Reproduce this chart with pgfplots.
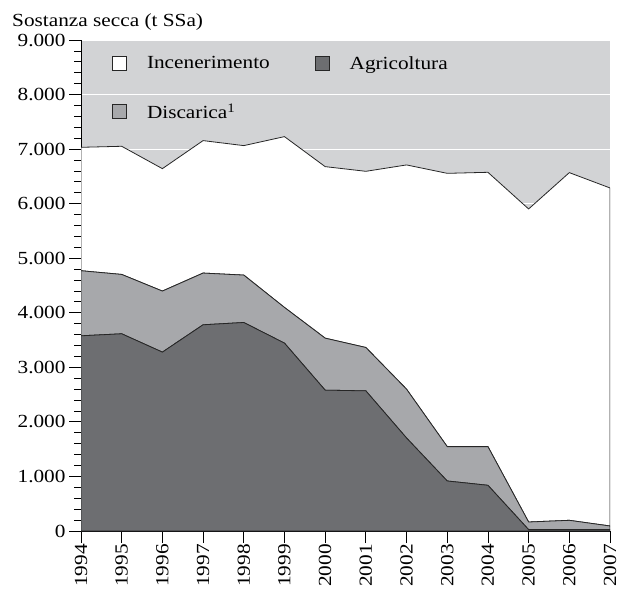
\documentclass[border=0pt]{standalone}
\usepackage{pgfplots}
\pgfplotsset{compat=1.18}
\usepackage{fontspec}
\setmainfont{Liberation Serif}[FakeStretch=1.15]
\definecolor{bggray}{HTML}{D2D3D5}
\definecolor{agrgray}{HTML}{6D6E71}
\definecolor{disgray}{HTML}{A7A8AB}
\newcommand{\fs}{\fontsize{18.5}{22}\selectfont}
\begin{document}
\begin{tikzpicture}[font=\fs]
\begin{axis}[
  name=ax, at={(0,0)}, anchor=south west,
  scale only axis, width=529pt, height=491pt,
  xmin=1994, xmax=2007, ymin=0, ymax=9000,
  stack plots=y,
  axis x line*=bottom, axis y line*=left,
  axis line style={-, line width=0.9pt, black},
  axis background/.style={fill=bggray},
  ymajorgrids, grid style={white, line width=1pt},
  tick align=outside,
  major tick length=12pt, minor tick length=7pt,
  tick style={black, line width=0.8pt},
  xtick={1994,1995,1996,1997,1998,1999,2000,2001,2002,2003,2004,2005,2006,2007},
  xticklabels={1994,1995,1996,1997,1998,1999,2000,2001,2002,2003,2004,2005,2006,2007},
  x tick label style={rotate=90, anchor=east, inner sep=1pt},
  ytick={0,1000,...,9000},
  minor y tick num=4,
  yticklabel style={/pgf/number format/.cd, 1000 sep={.}, assume math mode=true},
  tick label style={font=\fs},
  legend columns=2,
  legend cell align=left,
  legend style={draw=none, fill=none, font=\fs, inner sep=0pt,
    at={(axis description cs:0,1)}, anchor=north west, xshift=31pt, yshift=-14pt,
    row sep=29pt,
    /tikz/every odd column/.append style={column sep=18pt},
    /tikz/every even column/.append style={column sep=43pt}},
  legend image code/.code={\draw[#1, draw=black!85, line width=0.8pt] (0pt,-7pt) rectangle (14pt,7pt);},
]
\addlegendimage{fill=white}
\addlegendentry{Incenerimento}
\addlegendimage{fill=agrgray}
\addlegendentry{Agricoltura}
\addlegendimage{fill=disgray}
\addlegendentry{Discarica\textsuperscript{1}}

% Agricoltura
\addplot[fill=agrgray, draw=black!85, line width=0.8pt] coordinates {
(1994,3578) (1995,3615) (1996,3279) (1997,3780) (1998,3822) (1999,3444) (2000,2582)
(2001,2569) (2002,1705) (2003,917) (2004,838) (2005,25) (2006,25) (2007,25)} \closedcycle;
% Discarica
\addplot[fill=disgray, draw=black!85, line width=0.8pt] coordinates {
(1994,1193) (1995,1088) (1996,1119) (1997,948) (1998,869) (1999,654) (2000,953)
(2001,795) (2002,895) (2003,630) (2004,709) (2005,140) (2006,171) (2007,67)} \closedcycle;
% Incenerimento
\addplot[fill=white, draw=black!85, line width=0.8pt] coordinates {
(1994,2262) (1995,2349) (1996,2244) (1997,2428) (1998,2373) (1999,3131) (2000,3144)
(2001,3229) (2002,4110) (2003,5009) (2004,5028) (2005,5738) (2006,6373) (2007,6196)} \closedcycle;
\end{axis}
\node[anchor=base west, inner sep=0pt] at (-69pt,504pt) {Sostanza secca (t SSa)};
\pgfresetboundingbox
\path (-81pt,-66pt) rectangle (539pt,531pt);
\end{tikzpicture}
\end{document}
